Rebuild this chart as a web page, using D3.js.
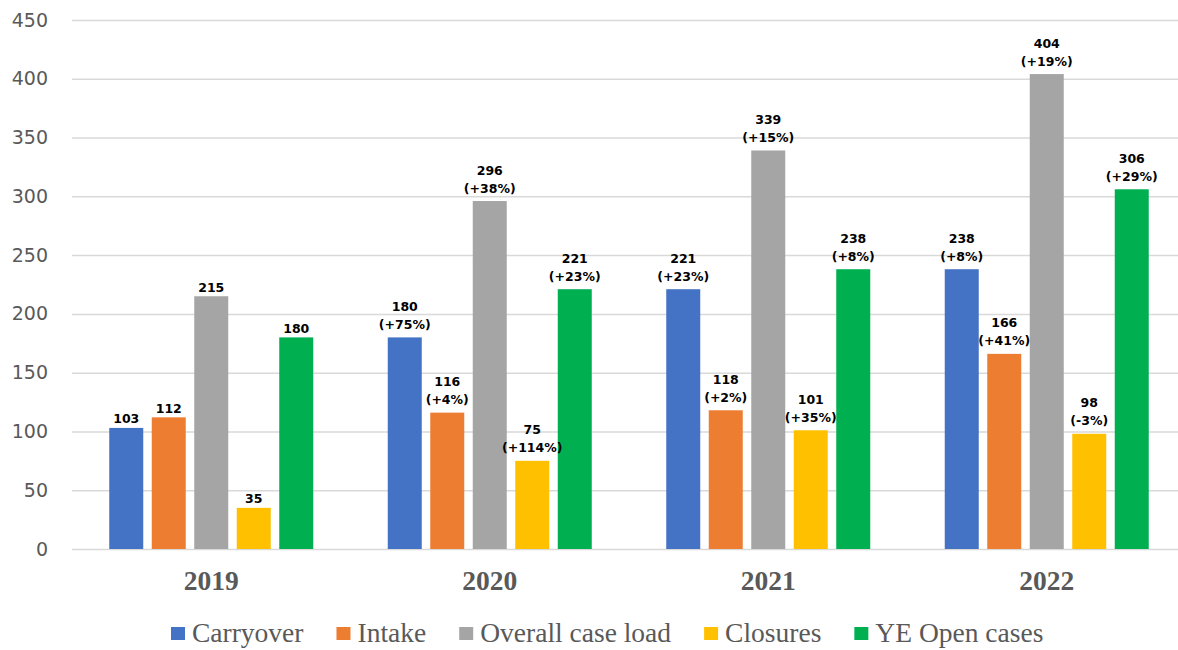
<!DOCTYPE html>
<html>
<head>
<meta charset="utf-8">
<script src="https://cdn.jsdelivr.net/npm/d3@7"></script>
<style>
  html, body { margin: 0; padding: 0; background: #fff; }
  svg { display: block; }
</style>
</head>
<body>
<svg id="chart" width="1178" height="650"></svg>
<script>
const years = ["2019", "2020", "2021", "2022"];
const seriesNames = ["Carryover", "Intake", "Overall case load", "Closures", "YE Open cases"];
const carryover = [103, 180, 221, 238];
const intake = [112, 116, 118, 166];
const overallCaseLoad = [215, 296, 339, 404];
const closures = [35, 75, 101, 98];
const yeOpenCases = [180, 221, 238, 306];
const carryoverPct = ["", "+75%", "+23%", "+8%"];
const intakePct = ["", "+4%", "+2%", "+41%"];
const overallPct = ["", "+38%", "+15%", "+19%"];
const closuresPct = ["", "+114%", "+35%", "-3%"];
const yePct = ["", "+23%", "+8%", "+29%"];
const yTicks = [0, 50, 100, 150, 200, 250, 300, 350, 400, 450];
const colors = ["#4472C4", "#ED7D31", "#A5A5A5", "#FFC000", "#00B050"];

const values = [carryover, intake, overallCaseLoad, closures, yeOpenCases];
const pcts = [carryoverPct, intakePct, overallPct, closuresPct, yePct];

const svg = d3.select("#chart");
const plotLeft = 72, plotRight = 1186, plotTop = 20, plotBottom = 549;

const y = d3.scaleLinear().domain([0, 450]).range([plotBottom, plotTop]);
const x0 = d3.scaleBand().domain(years).range([plotLeft, plotRight]).paddingInner(0.2675).paddingOuter(0.2675 / 2);
const x1 = d3.scaleBand().domain(seriesNames).range([0, x0.bandwidth()]).paddingInner(0.2).paddingOuter(0);

// gridlines + y labels
const yAxis = svg.append("g")
  .attr("transform", `translate(${plotLeft},0)`)
  .call(d3.axisLeft(y).tickValues(yTicks).tickSize(-(plotRight - plotLeft)).tickPadding(24));
yAxis.select(".domain").remove();
yAxis.selectAll(".tick line").attr("stroke", "#d9d9d9").attr("stroke-width", 1.5);
yAxis.selectAll(".tick text")
  .attr("fill", "#595959")
  .style("font-family", "'DejaVu Sans', sans-serif")
  .style("font-size", "19px");

// bars
const data = [];
years.forEach((yr, i) => {
  seriesNames.forEach((s, j) => {
    data.push({ year: yr, series: s, value: values[j][i], pct: pcts[j][i], color: colors[j] });
  });
});

const bars = svg.append("g");
bars.selectAll("rect").data(data).join("rect")
  .attr("x", d => x0(d.year) + x1(d.series))
  .attr("y", d => y(d.value))
  .attr("width", x1.bandwidth())
  .attr("height", d => y(0) - y(d.value))
  .attr("fill", d => d.color);

// data labels
const labels = svg.append("g")
  .style("font-family", "'DejaVu Sans', sans-serif")
  .style("font-size", "12.5px")
  .style("font-weight", "bold")
  .attr("fill", "#000");
data.forEach(d => {
  const cx = x0(d.year) + x1(d.series) + x1.bandwidth() / 2;
  const t = y(d.value);
  if (d.pct) {
    labels.append("text").attr("x", cx).attr("y", t - 26.5).attr("text-anchor", "middle").text(d.value);
    labels.append("text").attr("x", cx).attr("y", t - 8.5).attr("text-anchor", "middle").text("(" + d.pct + ")");
  } else {
    labels.append("text").attr("x", cx).attr("y", t - 4.5).attr("text-anchor", "middle").text(d.value);
  }
});

// x axis labels
const xAxis = svg.append("g")
  .attr("transform", `translate(0,${plotBottom})`)
  .call(d3.axisBottom(x0).tickSize(0));
xAxis.select(".domain").remove();
xAxis.selectAll(".tick text")
  .attr("y", 41).attr("dy", null)
  .attr("fill", "#595959")
  .style("font-family", "'Liberation Serif', 'Times New Roman', serif")
  .style("font-size", "27.5px")
  .style("font-weight", "bold");

// legend
const legend = svg.append("g");
let lx = 171;
seriesNames.forEach((s, j) => {
  legend.append("rect").attr("x", lx).attr("y", 627).attr("width", 14).attr("height", 13).attr("fill", colors[j]);
  const t = legend.append("text")
    .attr("x", lx + 21).attr("y", 642)
    .attr("fill", "#595959")
    .style("font-family", "'Liberation Serif', 'Times New Roman', serif")
    .style("font-size", "27.5px")
    .text(s);
  lx = lx + 21 + t.node().getComputedTextLength() + 33;
});
</script>
</body>
</html>
